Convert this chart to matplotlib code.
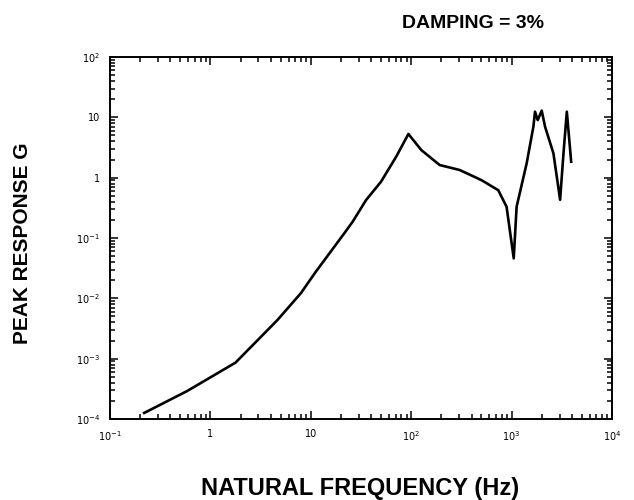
import matplotlib.pyplot as plt
from matplotlib.ticker import FixedLocator, LogLocator, NullFormatter

# data
freq = [0.219, 0.585, 1.78, 4.64, 7.94, 11.2, 21.5, 26.1, 35.5, 50, 70.8, 93.8,
        126, 192, 304, 501, 736, 891, 1050, 1122, 1413, 1648, 1711, 1820, 1995,
        2154, 2610, 3042, 3287, 3548, 3920]
resp = [1.26e-4, 2.9e-4, 8.6e-4, 4.35e-3, 0.0121, 0.0275, 0.119, 0.186, 0.425,
        0.855, 2.22, 5.3, 2.87, 1.62, 1.34, 0.91, 0.62, 0.33, 0.046, 0.33, 1.73,
        7.0, 12.4, 9.0, 12.9, 7.0, 2.53, 0.43, 2.53, 12.4, 1.84]

xticks = [0.1, 1, 10, 100, 1000, 10000]
xlabels = ['$10^{-1}$', '1', '10', '$10^{2}$', '$10^{3}$', '$10^{4}$']
yticks = [1e-4, 1e-3, 1e-2, 1e-1, 1, 10, 100]
ylabels = ['$10^{-4}$', '$10^{-3}$', '$10^{-2}$', '$10^{-1}$', '1', '10', '$10^{2}$']

fig = plt.figure(figsize=(6.34, 5.0), dpi=100)
ax = fig.add_axes([0.1735, 0.162, 0.7918, 0.724])

ax.plot(freq, resp, color='black', lw=1.9, solid_joinstyle='round')

ax.set_xscale('log')
ax.set_yscale('log')
ax.set_xlim(0.1, 10000)
ax.set_ylim(1e-4, 100)

ax.xaxis.set_major_locator(FixedLocator(xticks))
ax.set_xticklabels(xlabels)
ax.yaxis.set_major_locator(FixedLocator(yticks))
ax.set_yticklabels(ylabels)
ax.xaxis.set_minor_locator(LogLocator(base=10, subs=range(2, 10), numticks=20))
ax.yaxis.set_minor_locator(LogLocator(base=10, subs=range(2, 10), numticks=20))
ax.xaxis.set_minor_formatter(NullFormatter())
ax.yaxis.set_minor_formatter(NullFormatter())

ax.tick_params(which='both', direction='in', top=True, right=True, width=1.1,
               labelsize=7, colors='black')
ax.tick_params(which='major', length=6, pad=7)
ax.tick_params(which='minor', length=3.5)
for s in ax.spines.values():
    s.set_linewidth(1.4)

fig.text(0.746, 0.954, 'DAMPING = 3%', ha='center', va='center',
         fontsize=14, fontweight='bold', family='Liberation Sans')
fig.text(0.035, 0.514, 'PEAK RESPONSE G', ha='center', va='center', rotation=90,
         fontsize=15, fontweight='bold', family='Liberation Sans')
fig.text(0.568, 0.024, 'NATURAL FREQUENCY (Hz)', ha='center', va='center',
         fontsize=17, fontweight='bold', family='Liberation Sans')

fig.savefig('out.png', dpi=100)
